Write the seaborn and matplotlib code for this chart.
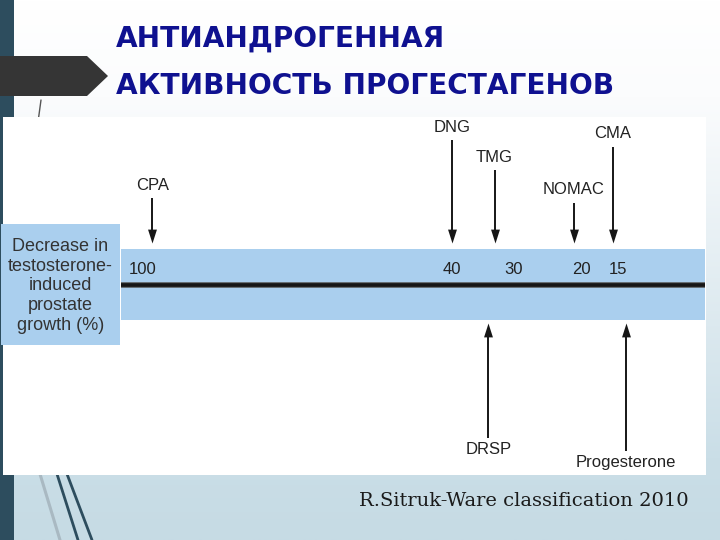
import numpy as np
import pandas as pd
import matplotlib
matplotlib.use("Agg")
import matplotlib.pyplot as plt
import seaborn as sns
from matplotlib.patches import Rectangle, Polygon
from matplotlib.colors import LinearSegmentedColormap

# scale values printed on the band (% decrease)
scale_values = [100, 40, 30, 20, 15]

# progestins pointing down onto the scale
above_drugs = ["CPA", "DNG", "TMG", "NOMAC", "CMA"]
above_values = [98, 40, 33, 21, 15.7]

# progestins pointing up onto the scale
below_drugs = ["DRSP", "Progesterone"]
below_values = [34, 14]

title_lines = ["АНТИАНДРОГЕННАЯ", "АКТИВНОСТЬ ПРОГЕСТАГЕНОВ"]
box_label = "Decrease in\ntestosterone-\ninduced\nprostate\ngrowth (%)"
source = "R.Sitruk-Ware classification 2010"

# layout (pixel rows of the labels)
above_label_y = [185, 127, 157, 190, 134]
below_label_y = [450, 463]

sns.set_style("white")
plt.rcParams["font.family"] = ["Liberation Sans", "DejaVu Sans"]

band_color = "#aacfee"
ink = "#161616"
k = 0.73  # schematic scale is compressed toward the high end

fig = plt.figure(figsize=(7.2, 5.4), dpi=100)

# slide background drawn in pixel coordinates
bg = fig.add_axes([0, 0, 1, 1])
bg.set_xlim(0, 720)
bg.set_ylim(540, 0)
bg.axis("off")
grad = np.linspace(0, 1, 256).reshape(-1, 1)
cmap = LinearSegmentedColormap.from_list(
    "bg", [(0, "#ffffff"), (0.18, "#fbfcfd"), (0.85, "#cadee7"), (1, "#c6dbe4")])
bg.imshow(grad, extent=(0, 720, 540, 0), aspect="auto", cmap=cmap, zorder=0)
bg.add_patch(Rectangle((0, 0), 14, 540, fc="#2d4d5e", ec="none", zorder=1))
bg.add_patch(Polygon([(0, 56), (87, 56), (108, 76), (87, 96), (0, 96)],
                     closed=True, fc="#353535", ec="none", zorder=2))
for xs, ys, c, w in [([40, 60], [474, 540], "#a9b9c2", 2.2),
                     ([57, 78], [474, 540], "#2d4d5e", 2.0),
                     ([67, 92], [474, 540], "#2d4d5e", 2.0),
                     ([41, 38], [100, 122], "#555555", 1.0)]:
    bg.plot(xs, ys, color=c, lw=w, zorder=2)
bg.add_patch(Rectangle((3, 117), 703, 358, fc="white", ec="none", zorder=3))
bg.add_patch(Rectangle((1, 224), 119, 121, fc=band_color, ec="none", zorder=4))
bg.text(60.5, 286, box_label, ha="center", va="center", ma="center",
        fontsize=13, linespacing=1.2, color="#333333", zorder=5)
bg.text(116, 39, title_lines[0], ha="left", va="center", fontsize=20.2,
        fontweight="bold", family="DejaVu Sans", color="#0f1190", zorder=5)
bg.text(116, 86, title_lines[1], ha="left", va="center", fontsize=20.2,
        fontweight="bold", family="DejaVu Sans", color="#0f1190", zorder=5)
bg.text(689, 501, source, ha="right", va="center", fontsize=14,
        family="DejaVu Serif", color="#1a1a1a", zorder=5)

# chart axes over the white panel
ax = fig.add_axes([121 / 720, 1 - 475 / 540, (705 - 121) / 720, (475 - 117) / 540])
ax.patch.set_alpha(0)
ax.set_xscale("function", functions=(lambda v: np.power(np.clip(v, 0, None), k),
                                     lambda u: np.power(np.clip(u, 0, None), 1 / k)))
ax.set_xlim(104.8, 5.05)
ax.set_ylim(475, 117)
ax.axis("off")

ax.axhspan(249, 320, color=band_color, lw=0, zorder=1)
ax.axhline(285, color="#555555", lw=4.0, zorder=2)
ax.axhline(285, color=ink, lw=2.6, zorder=2)
for v in scale_values:
    ax.text(v, 270, str(v), ha="center", va="center", fontsize=12, color="#222222", zorder=3)

down_head = [(0, 0), (-0.32, 1), (0.32, 1)]
up_head = [(0, 0), (-0.32, -1), (0.32, -1)]

above = pd.DataFrame({"drug": above_drugs, "value": above_values, "label_y": above_label_y})
above["tip"] = 243
ax.vlines(above["value"], above["label_y"] + 13, 236, color=ink, lw=1.4, zorder=3)
sns.scatterplot(data=above, x="value", y="tip", marker=down_head, s=400, color=ink,
                linewidth=0, legend=False, ax=ax, zorder=4)
for _, r in above.iterrows():
    ax.text(r["value"], r["label_y"], r["drug"], ha="center", va="center",
            fontsize=12, color="#222222")

below = pd.DataFrame({"drug": below_drugs, "value": below_values, "label_y": below_label_y})
below["tip"] = 323
ax.vlines(below["value"], below["label_y"] - 12, 330, color=ink, lw=1.4, zorder=3)
sns.scatterplot(data=below, x="value", y="tip", marker=up_head, s=400, color=ink,
                linewidth=0, legend=False, ax=ax, zorder=4)
for _, r in below.iterrows():
    ax.text(r["value"], r["label_y"], r["drug"], ha="center", va="center",
            fontsize=12, color="#222222")

ax.set_xlabel("")
ax.set_ylabel("")
fig.savefig("out.png", dpi=100)
